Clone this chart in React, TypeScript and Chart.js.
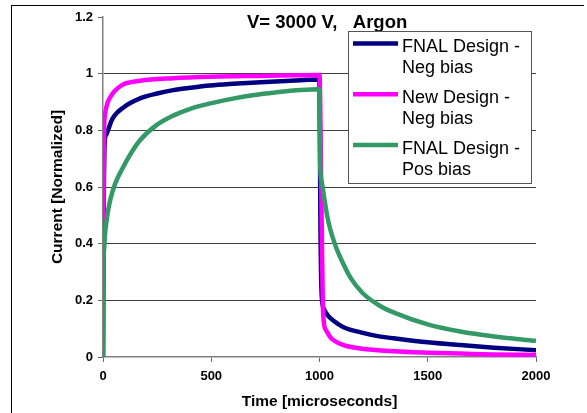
import React, { useEffect, useRef } from 'react';
import { Chart, registerables } from 'chart.js';

Chart.register(...registerables);

const chartTitle = 'V= 3000 V,   Argon';
const xAxisTitle = 'Time [microseconds]';
const yAxisTitle = 'Current [Normalized]';

const xTickValues = [0, 500, 1000, 1500, 2000];
const yTickValues = [0, 0.2, 0.4, 0.6, 0.8, 1, 1.2];

const seriesLabels = [
  ['FNAL Design -', 'Neg bias'],
  ['New Design -', 'Neg bias'],
  ['FNAL Design -', 'Pos bias'],
];
const seriesColors = ['#000080', '#FF00FF', '#339966'];

// FNAL Design - Neg bias
const fnalNegTime = [0, 3, 8, 15, 23, 40, 55, 93, 130, 171, 250, 324, 403, 495, 600, 750, 912, 1000, 1004, 1010, 1020, 1040, 1065, 1111, 1190, 1282, 1343, 1500, 1650, 1806, 2000];
const fnalNegCurrent = [0, 0.5, 0.76, 0.785, 0.8, 0.835, 0.854, 0.88, 0.898, 0.913, 0.93, 0.942, 0.95, 0.958, 0.964, 0.971, 0.977, 0.979, 0.5, 0.22, 0.17, 0.145, 0.128, 0.105, 0.087, 0.072, 0.066, 0.052, 0.042, 0.033, 0.024];

// New Design - Neg bias
const newNegTime = [0, 2, 5, 10, 20, 32, 55, 93, 171, 324, 495, 700, 1000, 1008, 1017, 1030, 1050, 1065, 1111, 1190, 1343, 1500, 1653, 1800, 2000];
const newNegCurrent = [0, 0.5, 0.8, 0.86, 0.895, 0.915, 0.94, 0.962, 0.975, 0.984, 0.989, 0.992, 0.995, 0.6, 0.15, 0.095, 0.07, 0.059, 0.042, 0.03, 0.02, 0.015, 0.012, 0.009, 0.007];

// FNAL Design - Pos bias
const fnalPosTime = [0, 1, 5, 9, 20, 32, 55, 93, 130, 171, 250, 324, 403, 495, 600, 700, 800, 912, 1000, 1003, 1010, 1020, 1035, 1050, 1075, 1100, 1143, 1200, 1280, 1350, 1500, 1650, 1800, 2000];
const fnalPosCurrent = [0, 0.3, 0.38, 0.43, 0.5, 0.55, 0.61, 0.67, 0.72, 0.765, 0.82, 0.852, 0.876, 0.895, 0.912, 0.925, 0.934, 0.942, 0.945, 0.68, 0.62, 0.57, 0.5, 0.45, 0.39, 0.345, 0.28, 0.225, 0.18, 0.155, 0.115, 0.09, 0.073, 0.057];

const FONT = "'Liberation Sans', Arial, Helvetica, sans-serif";

const toPoints = (t: number[], v: number[]) => t.map((x, i) => ({ x, y: v[i] }));

const titlePlugin = {
  id: 'fixedTitle',
  afterDraw(chart: any) {
    const ctx = chart.ctx;
    ctx.save();
    ctx.font = `bold 18.5px ${FONT}`;
    ctx.fillStyle = '#000';
    ctx.textAlign = 'left';
    ctx.textBaseline = 'alphabetic';
    ctx.fillText(chartTitle, 247, 28);
    ctx.restore();
  },
};

const legendPlugin = {
  id: 'boxLegend',
  afterDraw(chart: any) {
    const ctx = chart.ctx;
    ctx.save();
    const bx = 348.5, by = 31.5, bw = 183, bh = 152;
    ctx.fillStyle = '#fff';
    ctx.fillRect(bx, by, bw, bh);
    ctx.strokeStyle = '#555';
    ctx.lineWidth = 1;
    ctx.strokeRect(bx, by, bw, bh);
    ctx.font = `18px ${FONT}`;
    ctx.textAlign = 'left';
    ctx.textBaseline = 'alphabetic';
    chart.data.datasets.forEach((ds: any, i: number) => {
      const top = by + i * 50.8;
      ctx.strokeStyle = ds.borderColor;
      ctx.lineWidth = 4.5;
      ctx.beginPath();
      ctx.moveTo(353, top + 12);
      ctx.lineTo(398, top + 12);
      ctx.stroke();
      ctx.fillStyle = '#000';
      (ds.legendLines as string[]).forEach((ln, j) => ctx.fillText(ln, 402, top + 20.5 + j * 21));
    });
    ctx.restore();
  },
};

export default function App() {
  const ref = useRef<HTMLCanvasElement | null>(null);

  useEffect(() => {
    if (!ref.current) return;
    const makeDs = (i: number, t: number[], v: number[], order: number) => ({
      label: seriesLabels[i].join(' '),
      legendLines: seriesLabels[i],
      data: toPoints(t, v),
      borderColor: seriesColors[i],
      backgroundColor: seriesColors[i],
      borderWidth: 4.5,
      pointRadius: 0,
      fill: false,
      cubicInterpolationMode: 'monotone',
      borderJoinStyle: 'round',
      order,
    });
    const chart = new Chart(ref.current, {
      type: 'line',
      data: {
        datasets: [
          makeDs(0, fnalNegTime, fnalNegCurrent, 2),
          makeDs(1, newNegTime, newNegCurrent, 1),
          makeDs(2, fnalPosTime, fnalPosCurrent, 0),
        ] as any,
      },
      options: {
        responsive: false,
        animation: false,
        devicePixelRatio: 1,
        layout: { padding: { top: 17, right: 51, left: 0, bottom: 0 } },
        plugins: {
          legend: { display: false },
          title: { display: false },
          tooltip: { enabled: false },
        },
        scales: {
          x: {
            type: 'linear',
            min: 0,
            max: 2000,
            afterFit: (s: any) => { s.height = 56; },
            afterBuildTicks: (s: any) => { s.ticks = xTickValues.map((value) => ({ value })); },
            ticks: {
              autoSkip: false,
              maxRotation: 0,
              padding: 7,
              color: '#000',
              font: { family: FONT, size: 13, weight: 'bold' },
              callback: (v: any) => String(v),
            },
            grid: { drawOnChartArea: false, drawTicks: true, tickLength: 5, tickColor: '#666' },
            border: { color: '#808080', width: 1.5 },
            title: {
              display: true,
              text: xAxisTitle,
              color: '#000',
              font: { family: FONT, size: 15.5, weight: 'bold' },
              padding: { top: 0, bottom: 2 },
            },
          },
          y: {
            type: 'linear',
            min: 0,
            max: 1.2,
            afterFit: (s: any) => { s.width = 103; },
            afterBuildTicks: (s: any) => { s.ticks = yTickValues.map((value) => ({ value })); },
            ticks: {
              padding: 5,
              color: '#000',
              font: { family: FONT, size: 13, weight: 'bold' },
              callback: (v: any) => String(Math.round(Number(v) * 10) / 10),
            },
            grid: {
              color: (c: any) => (c.tick && (c.tick.value === 0 || c.tick.value > 1.1) ? 'rgba(0,0,0,0)' : '#404040'),
              tickColor: '#666',
              tickLength: 5,
              lineWidth: 1,
            },
            border: { color: '#808080', width: 1.5 },
            title: {
              display: true,
              text: yAxisTitle,
              color: '#000',
              font: { family: FONT, size: 15.5, weight: 'bold' },
              padding: { top: 48, bottom: 0 },
            },
          },
        },
      } as any,
      plugins: [titlePlugin, legendPlugin],
    });
    return () => chart.destroy();
  }, []);

  return (
    <div style={{ position: 'fixed', left: 0, top: 0, width: 587, height: 413, background: '#fff', overflow: 'hidden' }}>
      <div style={{ position: 'absolute', left: 11, top: 5, width: 572, height: 500, borderTop: '1px solid #000', borderLeft: '1px solid #000' }} />
      <canvas ref={ref} width={587} height={413} style={{ position: 'absolute', left: 0, top: 0, width: 587, height: 413 }} />
    </div>
  );
}
